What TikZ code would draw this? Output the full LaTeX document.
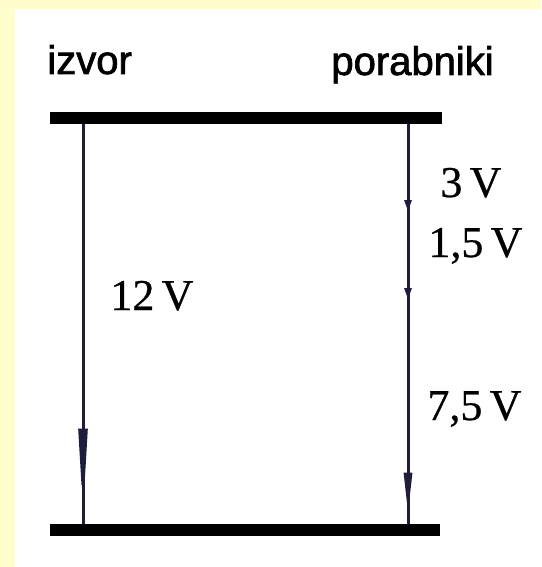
\documentclass[tikz,border=0pt]{standalone}
\usepackage{fontspec}
\setmainfont{Liberation Serif}[FakeBold=0.6]
\newfontfamily\labfont{Liberation Sans}[FakeBold=1.8]
\usetikzlibrary{arrows.meta,decorations.markings}
\definecolor{paper}{HTML}{FFFDCB}
\definecolor{navy}{HTML}{1E1E3C}

\begin{document}
\begin{tikzpicture}[
  x=0.5pt, y=-0.5pt,
  bar/.style={line width=6pt, black},
  wire/.style={line width=1.5pt, navy},
  lab/.style={font=\labfont\fontsize{20}{24}\selectfont, inner sep=0pt, anchor=base west},
  volt/.style={font=\fontsize{22}{26}\selectfont, inner sep=0pt, anchor=base west},
  tipsmall/.style={decoration={markings,
      mark=at position #1 with {\arrow{Triangle[length=6pt,width=3.4pt]}}}, postaction=decorate}
]
  % background
  \fill[paper] (0,0) rectangle (541,567);
  \fill[white] (15,9) rectangle (541,567);
  \useasboundingbox (0,0) rectangle (541,567);

  % ends of the wires on the two bars
  \coordinate (topL) at (50,118);
  \coordinate (topR) at (442,118);
  \coordinate (botL) at (50,529.5);
  \coordinate (botR) at (440,529.5);
  \coordinate (izT) at (83,118);
  \coordinate (izB) at (83,529.5);
  \coordinate (poT) at (408,118);
  \coordinate (poB) at (408,529.5);

  % source: one long drop
  \draw[wire, decoration={markings,
      mark=at position -7.5pt with {\arrow{Triangle[length=43pt,width=4.4pt]}}},
      postaction=decorate] (izT) -- (izB);
  % consumers: three drops in a row
  \draw[wire, tipsmall=47pt] (poT) -- (poB);
  \draw[wire, tipsmall=91pt] (poT) -- (poB);
  \draw[wire, decoration={markings,
      mark=at position -7.5pt with {\arrow{Triangle[length=21pt,width=4pt]}}},
      postaction=decorate] (poT) -- (poB);

  \draw[bar] (topL) -- (topR);
  \draw[bar] (botL) -- (botR);

  \node[lab] (izvor) at (47,74) {izvor};
  \node[lab] (porab) at (331,75) {porabniki};

  \node[volt] (u0) at (110,310) {12\,V};
  \node[volt] (u1) at (440,197) {3\,V};
  \node[volt] (u2) at (428,257) {1,5\,V};
  \node[volt] (u3) at (427,420) {7,5\,V};
\end{tikzpicture}
\end{document}
